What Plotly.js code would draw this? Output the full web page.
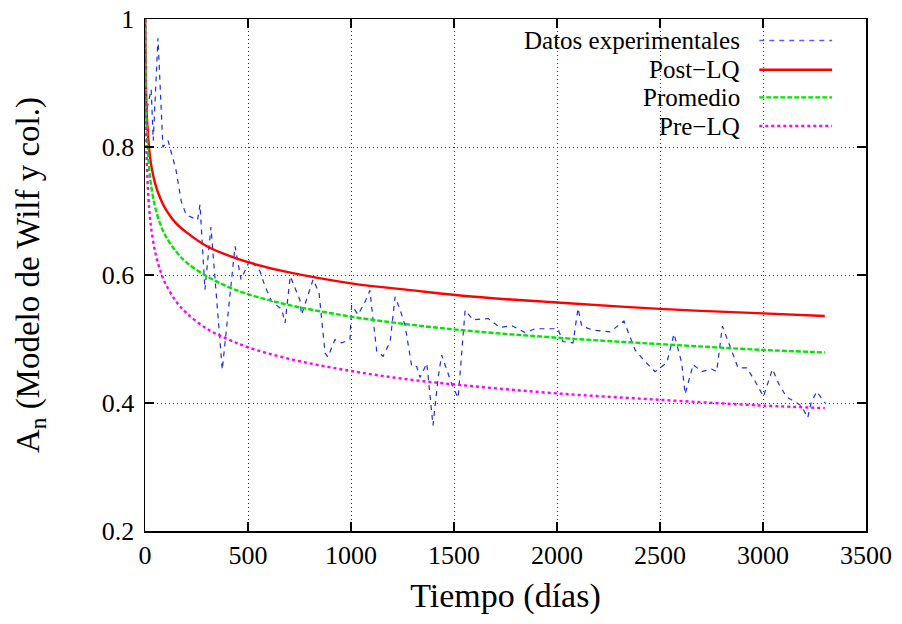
<!DOCTYPE html>
<html>
<head>
<meta charset="utf-8">
<script src="https://cdn.plot.ly/plotly-3.0.1.min.js"></script>
<style>html,body{margin:0;padding:0;background:#fff;}#chart{width:902px;height:624px;}</style>
</head>
<body>
<div id="chart"></div>
<script>
// Experimental data (days, A_n)
const expT = [10,30,40,63,87,112,150,176,200,255,267,291,320,375,437,466,510,558,583,615,664,680,705,752,760,816,845,874,888,922,955,995,1003,1034,1068,1092,1100,1125,1156,1190,1214,1238,1262,1295,1319,1335,1368,1398,1423,1440,1465,1492,1520,1554,1592,1666,1723,1780,1845,1893,1942,2004,2029,2078,2102,2120,2175,2257,2325,2379,2427,2476,2533,2568,2605,2622,2661,2703,2751,2775,2803,2830,2879,2921,2962,3002,3046,3078,3115,3156,3188,3217,3233,3261,3301];
const expA = [0.86,0.89,0.81,0.97,0.80,0.81,0.765,0.715,0.694,0.686,0.71,0.577,0.675,0.452,0.645,0.593,0.624,0.606,0.582,0.559,0.546,0.525,0.598,0.561,0.538,0.593,0.572,0.478,0.472,0.499,0.494,0.499,0.553,0.538,0.558,0.576,0.551,0.481,0.473,0.496,0.566,0.546,0.522,0.457,0.457,0.44,0.462,0.365,0.44,0.475,0.452,0.427,0.408,0.545,0.53,0.532,0.518,0.521,0.51,0.516,0.516,0.516,0.496,0.494,0.548,0.52,0.514,0.511,0.528,0.483,0.465,0.449,0.463,0.508,0.463,0.414,0.46,0.449,0.453,0.449,0.52,0.496,0.455,0.455,0.434,0.41,0.453,0.429,0.409,0.402,0.395,0.377,0.4,0.418,0.4];

// Model curves (days)
const modelT = [1,2,5,10,20,30,50,75,100,150,200,300,400,500,700,1000,1300,1600,2000,2500,3000,3300];
const postLQ = [1.0,0.954,0.888,0.842,0.798,0.772,0.742,0.719,0.703,0.681,0.667,0.645,0.631,0.620,0.604,0.587,0.576,0.566,0.557,0.547,0.540,0.536];
const promedio = [1.0,0.948,0.871,0.817,0.767,0.739,0.705,0.679,0.661,0.637,0.620,0.598,0.582,0.570,0.553,0.535,0.522,0.512,0.502,0.492,0.483,0.479];
const preLQ = [1.0,0.919,0.827,0.764,0.705,0.673,0.635,0.606,0.586,0.559,0.541,0.516,0.500,0.487,0.469,0.450,0.436,0.426,0.415,0.405,0.396,0.392];

const names = ['Datos experimentales','Post\u2212LQ','Promedio','Pre\u2212LQ'];
const colors = ['#1a2cf0','#ff0000','#00e600','#ff00ff'];
const widths = [1.2,2.4,2.4,2.4];
const dashes = ['5px,5px','solid','5px,2px','dot'];

const ys = [expA, postLQ, promedio, preLQ];
const xs = [expT, modelT, modelT, modelT];
const traces = ys.map((y,i)=>({
  x: xs[i], y: y, type:'scatter', mode:'lines', name:names[i],
  line:{color:colors[i], width:widths[i], dash:dashes[i], shape: i===0?'linear':'spline'},
  showlegend:false, hoverinfo:'skip'
}));

const font = 'Liberation Serif';
// gnuplot-style key (text right-aligned, sample on its right)
const legY = [0.958, 0.901, 0.847, 0.791];
const annotations = names.map((n,i)=>({
  xref:'paper', yref:'paper', x:0.827, y:legY[i], xanchor:'right', yanchor:'middle',
  text:n, showarrow:false, font:{family:font, size:25, color:'#000'}, borderpad:0
}));
const shapes = names.map((n,i)=>({
  type:'line', xref:'paper', yref:'paper', x0:0.852, x1:0.953, y0:legY[i], y1:legY[i],
  line:{color: i===0 ? '#5a5aff' : colors[i], width: i===0?1.3:2.4, dash:dashes[i]}
}));

const axisCommon = {
  showline:true, linecolor:'#000', linewidth:1.5, mirror:'allticks',
  ticks:'inside', ticklen:9, tickwidth:1.2, tickcolor:'#000',
  showgrid:true, gridcolor:'#333', gridwidth:1, griddash:'1px,3px',
  zeroline:false, tickfont:{family:font, size:26, color:'#000'}
};

const layout = {
  width:902, height:624,
  margin:{l:145, r:36, t:19, b:93},
  paper_bgcolor:'#fff', plot_bgcolor:'#fff',
  font:{family:font, color:'#000'},
  xaxis: Object.assign({}, axisCommon, {
    range:[0,3500], tickmode:'linear', tick0:0, dtick:500,
    title:{text:'Tiempo (días)', font:{family:font, size:34, color:'#000'}, standoff:14}
  }),
  yaxis: Object.assign({}, axisCommon, {
    range:[0.2,1], tickmode:'linear', tick0:0.2, dtick:0.2, ticklabelstandoff:4,
    title:{text:'A<sub>n</sub> (Modelo de Wilf y col.)', font:{family:font, size:33, color:'#000'}, standoff:52}
  }),
  annotations: annotations,
  shapes: shapes
};

Plotly.newPlot('chart', traces, layout, {staticPlot:true, displayModeBar:false});
</script>
</body>
</html>
